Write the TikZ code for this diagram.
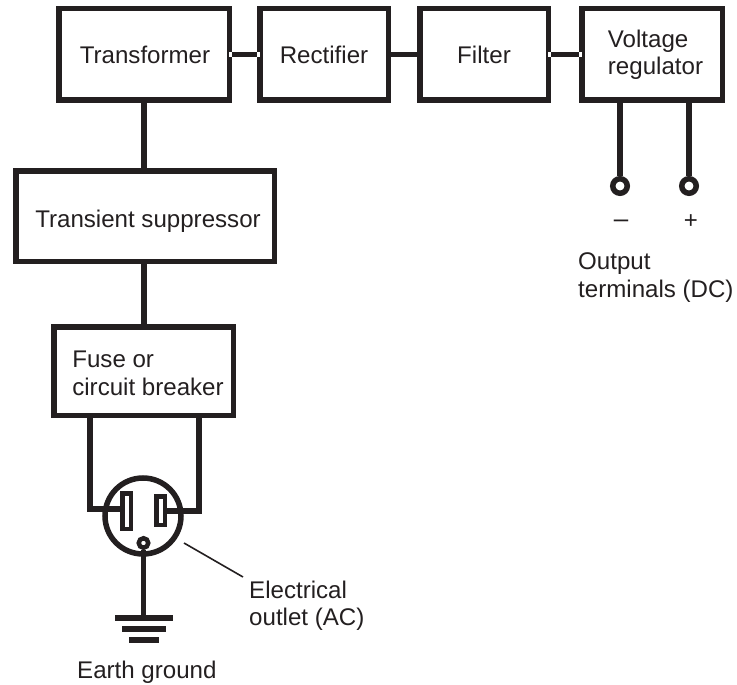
\documentclass[tikz,border=0pt]{standalone}
\usepackage{fontspec}
\setmainfont{Liberation Sans}
\definecolor{ink}{HTML}{231F20}
\tikzset{
  wire/.style={draw=ink,line width=5.5pt},
  block/.style={draw=ink,line width=5.5pt,rectangle,inner sep=0pt,text=ink,font=\fontsize{24.1}{27.5}\selectfont,align=center},
  lbl/.style={text=ink,inner sep=0pt,font=\fontsize{24.1}{27.5}\selectfont,align=left,anchor=north west},
  terminal/.style={circle,draw=ink,line width=5.5pt,fill=white,minimum size=14.5pt,inner sep=0pt},
  gap/.style={fill=white,draw=none,inner sep=0pt,minimum width=3pt,minimum height=5pt}
}
\begin{document}
\begin{tikzpicture}[x=1pt,y=-1pt]
\useasboundingbox (0,0) rectangle (737,685);
\node[block,minimum width=170.5pt,minimum height=91.5pt,text height=18pt,text depth=0pt] (xf) at (144,54.5) {\hspace{2pt}Transformer};
\node[block,minimum width=128.5pt,minimum height=91.5pt,text height=18pt,text depth=0pt] (rect) at (324,54.5) {Rectifier};
\node[block,minimum width=128.5pt,minimum height=91.5pt,text height=18pt,text depth=0pt] (filt) at (484,54.5) {Filter};
\node[block,minimum width=140.5pt,minimum height=91.5pt,text height=34pt,text depth=20pt] (reg) at (652,54.5) {\hspace{7pt}\begin{tabular}{@{}l@{}}Voltage\\regulator\end{tabular}};
\node[block,minimum width=258.5pt,minimum height=90.5pt,text height=22pt,text depth=0pt] (ts) at (145,216) {\hspace{6pt}Transient suppressor};
\node[block,minimum width=179.5pt,minimum height=88.5pt,text height=38pt,text depth=16pt] (fuse) at (143.5,371) {\hspace{9pt}\begin{tabular}{@{}l@{}}Fuse or\\circuit breaker\end{tabular}};
% connectors
\draw[wire] (xf.east) -- (rect.west);
\draw[wire] (rect.east) -- (filt.west);
\draw[wire] (filt.east) -- (reg.west);
\node[gap,xshift=-1.5pt] at (xf.east) {};
\node[gap,xshift=1.5pt] at (rect.west) {};
\node[gap,xshift=-1.5pt] at (filt.east) {};
\node[gap,xshift=1.5pt] at (reg.west) {};
\draw[wire] (xf.south) -- (xf.south |- ts.north);
\draw[wire] (xf.south |- ts.south) -- (xf.south |- fuse.north);
% output terminals
\node[terminal] (tm) at (620,186) {};
\node[terminal] (tp) at (689,186) {};
\draw[wire] (tm.north |- reg.south) -- (tm.north);
\draw[wire] (tp.north |- reg.south) -- (tp.north);
\node[text=ink,font=\fontsize{26}{30}\selectfont,inner sep=0pt] (minus) at (621,224) {–};
\node[text=ink,font=\fontsize{24}{28}\selectfont,inner sep=0pt] (plus) at (691,221.5) {+};
\node[lbl] (outlbl) at (578,252.5) {Output\\terminals (DC)};
% outlet
\node[circle,draw=ink,line width=5.5pt,minimum size=76pt,inner sep=0pt] (outlet) at (143,516) {};
\node[rectangle,draw=ink,line width=4.5pt,minimum width=8.5pt,minimum height=35.5pt,inner sep=0pt,fill=white] (bladeL) at (126.5,511) {};
\node[rectangle,draw=ink,line width=4.5pt,minimum width=8.5pt,minimum height=28.5pt,inner sep=0pt,fill=white] (bladeR) at (160.5,510.5) {};
\coordinate (fl) at (90,418);
\coordinate (fr) at (199,418);
\draw[wire,line join=miter] (fl) -- (90,509) -- (bladeL.west |- 0,509);
\draw[wire,line join=miter] (fr) -- (199,511) -- (bladeR.east |- 0,511);
\node[circle,draw=ink,line width=4.5pt,minimum size=9.5pt,inner sep=0pt,fill=white] (gnd) at (143.5,543) {};
% ground
\coordinate (g1) at (143.5,618);
\draw[wire] (gnd.south) -- (g1);
\draw[wire] (115,618) -- (173,618);
\draw[wire] (122,629) -- (166,629);
\draw[wire] (129,640) -- (159,640);
\node[lbl] (gl) at (77,660.5) {Earth ground};
% leader
\node[lbl] (ol) at (249,580.5) {Electrical\\outlet (AC)};
\draw[draw=ink,line width=1.6pt] (184,543) -- ([xshift=-6pt,yshift=3.5pt]ol.north west);
\end{tikzpicture}
\end{document}
